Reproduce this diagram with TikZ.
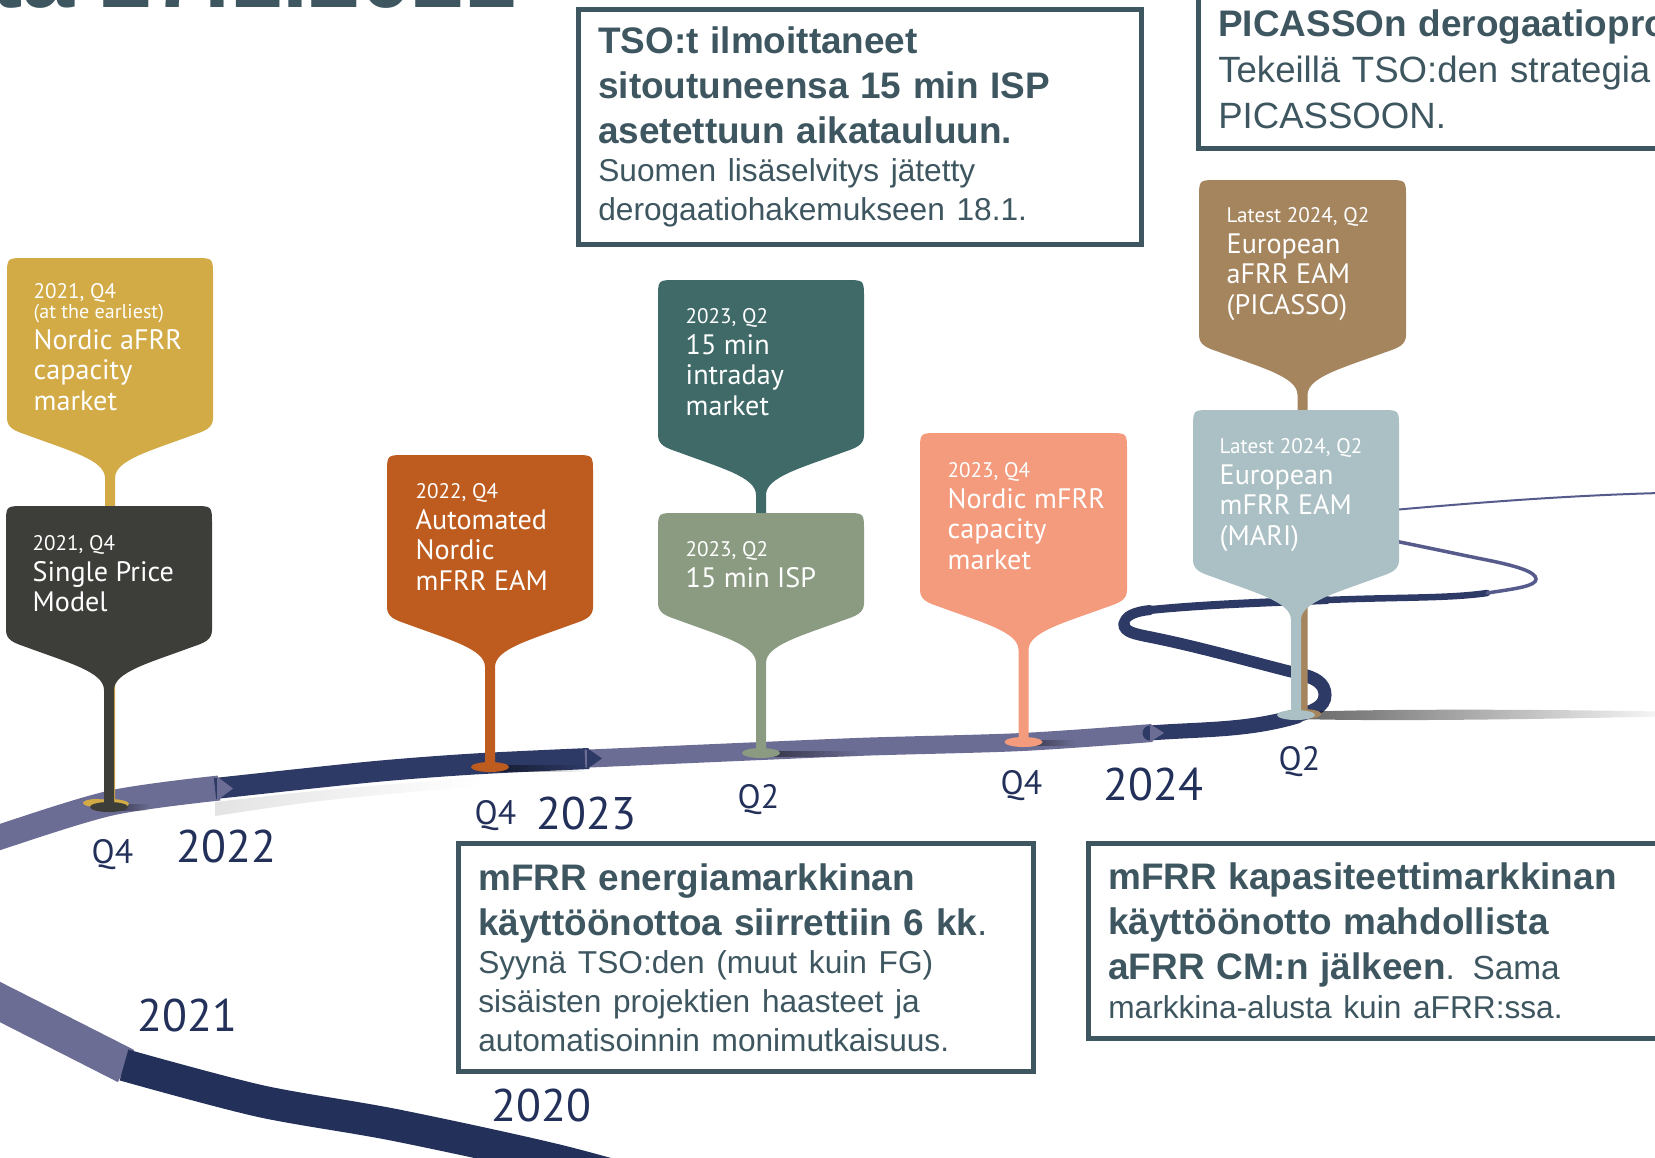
\documentclass[tikz,border=0pt]{standalone}
\usepackage{fontspec}
\setmainfont{Liberation Sans}
\newfontfamily\pinfont{PT Sans}
\usetikzlibrary{fadings}
\setlength{\parindent}{0pt}

\definecolor{boxc}{HTML}{3E5660}
\definecolor{yearc}{HTML}{22305A}
\definecolor{roadnavy}{HTML}{2E3A66}
\definecolor{roadnavyb}{HTML}{23305A}
\definecolor{roadlav}{HTML}{6C6D94}
\definecolor{roadthin}{HTML}{575B8C}
\definecolor{pingold}{HTML}{D2AA46}
\definecolor{pindark}{HTML}{3D3D39}
\definecolor{pinorange}{HTML}{BE5C1F}
\definecolor{pinteal}{HTML}{3F6A68}
\definecolor{pinsage}{HTML}{8A9B81}
\definecolor{pinsalmon}{HTML}{F39B7C}
\definecolor{pinbrown}{HTML}{A5855E}
\definecolor{pingrey}{HTML}{ABC0C4}

\tikzfading[name=fadeout right, left color=transparent!0, right color=transparent!100]

\newcommand{\datefont}{\fontsize{6}{7}\selectfont}
% pin: colour, left, top, right, bottom of the sides, foot of the stem
\newcommand{\pinshape}[6]{%
  \pgfmathsetmacro\pinmid{(#2+#4)/2}
  \fill[#1] (#2,#3+18) -- (#2,#5)
    .. controls (#2,#5+10) and (#2+8,#5+13) .. (#2+20,#5+17)
    .. controls (\pinmid-40,#5+33) and (\pinmid-5,#5+42) .. (\pinmid-5,#5+60)
    -- (\pinmid-5,#6) -- (\pinmid+5,#6) -- (\pinmid+5,#5+60)
    .. controls (\pinmid+5,#5+42) and (\pinmid+40,#5+33) .. (#4-20,#5+17)
    .. controls (#4-8,#5+13) and (#4,#5+10) .. (#4,#5)
    -- (#4,#3+18) .. controls (#4,#3) .. (#4-18,#3)
    -- (#2+18,#3) .. controls (#2,#3) .. (#2,#3+18) -- cycle;
  \fill[#1] (\pinmid,#6) ellipse [x radius=19, y radius=5];
}

\begin{document}
\begin{tikzpicture}[x=0.01cm, y=-0.01cm, every node/.style={inner sep=0pt},
  pintext/.style={anchor=north west, align=left, text=white, font=\pinfont\fontsize{8}{8.7}\selectfont},
  year/.style={anchor=base west, text=yearc, font=\pinfont\fontsize{13}{15}\selectfont},
  quarter/.style={anchor=base west, text=yearc, font=\pinfont\fontsize{9.6}{11}\selectfont},
  infobox/.style={draw=boxc, line width=1.3pt, fill=white, text=boxc, align=left, inner xsep=0.2cm}]
\useasboundingbox (0,0) rectangle (1655,1157);
\fill[white] (0,0) rectangle (1655,1157);

% title, cut by the top edge
\node (title) [anchor=base west, text=boxc, font=\fontsize{26.6}{30}\selectfont\bfseries] at (-9,7) {ta 27.1.2021};

% road: lower part (2020 -> 2021)
\draw[roadlav, line width=0.36cm] plot[smooth] coordinates {(-40,982) (0,1002) (126,1066)};
\draw[roadnavyb, line width=0.32cm] plot[smooth] coordinates {(124,1065) (260,1101) (395,1125) (560,1161) (700,1200)};

% road: upper part
\fill[black!30, opacity=.35, path fading=fadeout right] (215,802) .. controls (320,790) .. (480,777) -- (480,786) .. controls (320,800) .. (215,816) -- cycle;
\draw[roadlav, line width=0.25cm] plot[smooth] coordinates {(-40,852) (0,837) (111,803) (219,788)};
\draw[roadnavy, line width=0.21cm] plot[smooth] coordinates {(215,788.5) (370,772) (474,764) (589,758.5)};
\draw[roadlav, line width=0.18cm] plot[smooth] coordinates {(585,758.7) (761,751) (870,746.5) (1022,742) (1152,733)};

% road: the loop
\begin{scope}[roadnavy, line cap=round]
\draw[line width=0.15cm] (1150,733) .. controls (1200,729) and (1247,731) .. (1297,716);
\draw[line width=0.13cm] (1297,716) .. controls (1312,711.5) and (1325,707) .. (1325,695)
  .. controls (1325,683) and (1315,677.75) .. (1300,674);
\draw[line width=0.115cm] (1300,674) .. controls (1250,661.5) and (1200,647) .. (1150,637)
  .. controls (1135,634) and (1124,632) .. (1124,624);
\draw[line width=0.1cm] (1124,624) .. controls (1124,616) and (1135,611.5) .. (1150,610);
\draw[line width=0.08cm] (1150,610) .. controls (1210,604) and (1280,602) .. (1327,600);
\draw[line width=0.065cm] (1327,600) .. controls (1400,597) and (1450,598.5) .. (1487,593);
\draw[roadthin, line width=0.035cm] (1487,593) .. controls (1517,588.5) and (1536,586) .. (1536,579)
  .. controls (1536,572) and (1517,566) .. (1487,560)
  .. controls (1457,554) and (1430,548) .. (1370,536);
\draw[roadthin, line width=0.02cm] (1370,512) .. controls (1450,505) and (1550,496) .. (1660,493);
\end{scope}

% chevrons
\fill[roadlav] (217,776.5) -- (233,788.5) -- (217,800.5) -- cycle;
\fill[roadnavy] (587,748) -- (602,758.5) -- (587,769) -- cycle;
\fill[roadlav] (1150,724) -- (1164,733) -- (1150,742) -- cycle;

% shadows
\fill[black, opacity=.6, path fading=fadeout right] (1300,712) .. controls (1400,708) and (1600,710) .. (1680,712) -- (1680,716) .. controls (1600,718) and (1400,722) .. (1300,719) -- cycle;
\fill[black, opacity=.55, path fading=fadeout right] (110,804) rectangle (150,811);
\fill[black, opacity=.55, path fading=fadeout right] (490,765) rectangle (585,772);
\fill[black, opacity=.55, path fading=fadeout right] (761,751) rectangle (860,757);
\fill[black, opacity=.55, path fading=fadeout right] (1022,740) rectangle (1075,746);

% pins
\pinshape{pingold}{7}{258}{213}{418}{804}
\fill[pingold] (96,803) ellipse [x radius=13, y radius=4];
\node (afrrcap) [pintext] at (33,283) {{\datefont 2021, Q4}\\[-3pt]{\fontsize{5.7}{7}\selectfont (at the earliest)}\\Nordic aFRR\\capacity\\market};
\pinshape{pindark}{6}{506}{212}{630}{807}
\node (spm) [pintext] at (32,535) {{\datefont 2021, Q4}\\Single Price\\Model};
\pinshape{pinorange}{387}{455}{593}{607}{767}
\node (mfrream) [pintext] at (415,483) {{\datefont 2022, Q4}\\Automated\\Nordic\\mFRR EAM};
\pinshape{pinteal}{658}{280}{864}{435}{530}
\node (idm) [pintext] at (685,308) {{\datefont 2023, Q2}\\15 min\\intraday\\market};
\pinshape{pinsage}{658}{513}{864}{603}{753}
\node (isp) [pintext] at (685,541) {{\datefont 2023, Q2}\\15 min ISP};
\pinshape{pinsalmon}{920}{433}{1127}{590}{742}
\node (mfrrcap) [pintext] at (947,462) {{\datefont 2023, Q4}\\Nordic mFRR\\capacity\\market};
\pinshape{pinbrown}{1199}{180}{1406}{335}{714}
\node (picasso) [pintext] at (1226,207) {{\datefont Latest 2024, Q2}\\European\\aFRR EAM\\(PICASSO)};
\pinshape{pingrey}{1193}{410}{1399}{560}{715}
\node (mari) [pintext] at (1219,438) {{\datefont Latest 2024, Q2}\\European\\mFRR EAM\\(MARI)};

% years and quarters
\node (q4a) [quarter] at (91,863) {Q4};
\node (y2022) [year] at (176,862) {2022};
\node (q4b) [quarter] at (474,824) {Q4};
\node (y2023) [year] at (536,829) {2023};
\node (q2a) [quarter] at (737,808) {Q2};
\node (q4c) [quarter] at (1000,794) {Q4};
\node (y2024) [year] at (1103,800) {2024};
\node (q2b) [quarter] at (1278,770) {Q2};
\node (y2021) [year] at (137,1031) {2021};
\node (y2020) [year] at (491,1121) {2020};

% comment boxes
\node (tsobox) [infobox, anchor=north west, minimum width=5.63cm, minimum height=2.35cm, text width=5.23cm] at (576,7)
  {{\fontsize{10.5}{12.8}\selectfont\bfseries TSO:t ilmoittaneet\\ sitoutuneensa 15 min ISP\\ asetettuun aikatauluun.\par}
   {\fontsize{9}{11}\selectfont Suomen lisäselvitys jätetty\\ derogaatiohakemukseen 18.1.\par}};
\node (picbox) [infobox, anchor=south west, inner ysep=0.2cm, text width=6cm] at (1196,151)
  {{\fontsize{10.5}{12.8}\selectfont\bfseries PICASSOn derogaatiopro\par}
   {\fontsize{10.4}{13}\selectfont Tekeillä TSO:den strategia\\ PICASSOON.\par}};
\node (energybox) [infobox, anchor=north west, minimum width=5.75cm, minimum height=2.28cm, text width=5.35cm] at (456,841)
  {{\fontsize{10.5}{12.8}\selectfont\bfseries mFRR energiamarkkinan\\ käyttöönottoa siirrettiin 6 kk{\mdseries .}\par}
   {\fontsize{9}{11}\selectfont Syynä TSO:den (muut kuin FG)\\ sisäisten projektien haasteet ja\\ automatisoinnin monimutkaisuus.\par}};
\node (capbox) [infobox, anchor=north west, minimum height=1.95cm, text width=6cm] at (1086,841)
  {{\fontsize{10.5}{12.8}\selectfont\bfseries mFRR kapasiteettimarkkinan\\ käyttöönotto mahdollista\\ aFRR CM:n jälkeen{\mdseries\fontsize{9.5}{12.8}\selectfont. Sama}\par}
   {\fontsize{9}{11}\selectfont markkina-alusta kuin aFRR:ssa.\par}};
\end{tikzpicture}
\end{document}
